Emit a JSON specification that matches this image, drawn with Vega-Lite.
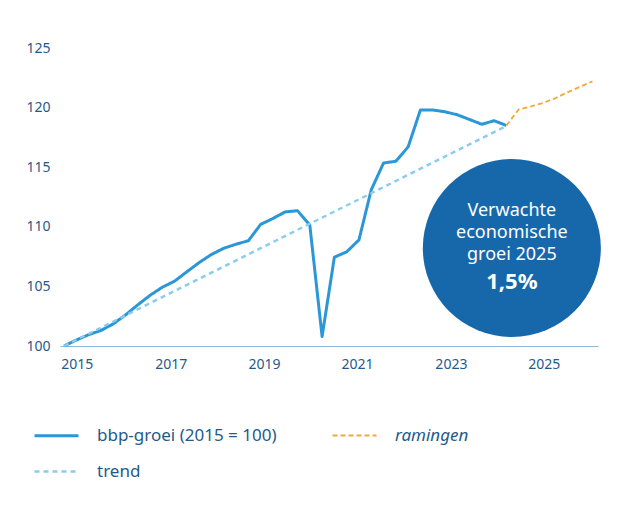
{
  "$schema": "https://vega.github.io/schema/vega-lite/v6.json",
  "width": 538,
  "height": 298,
  "autosize": {"type": "none"},
  "padding": {"left": 60, "top": 48, "right": 38, "bottom": 169},
  "background": "#ffffff",
  "config": {
    "view": {"stroke": null},
    "font": "Noto Sans",
    "axis": {"labelFont": "Noto Sans", "labelColor": "#1f5a8b", "labelFontSize": 14, "grid": false, "ticks": false, "title": null},
    "legend": {
      "title": null, "orient": "none", "legendX": -27, "legendY": 364,
      "columns": 2, "columnPadding": 51, "rowPadding": 4,
      "symbolType": "stroke", "symbolSize": 1936, "labelOffset": 17,
      "labelFontSize": 17, "labelColor": "#1f5a8b", "labelFont": "Noto Sans", "labelLimit": 400
    }
  },
  "datasets": {
    "reeksen": [
      {"reeks": "bbp-groei (2015 = 100)", "kwartaal": "2015K1", "t": 2015.00, "waarde": 100.0},
      {"reeks": "bbp-groei (2015 = 100)", "kwartaal": "2015K2", "t": 2015.25, "waarde": 100.5},
      {"reeks": "bbp-groei (2015 = 100)", "kwartaal": "2015K3", "t": 2015.50, "waarde": 100.95},
      {"reeks": "bbp-groei (2015 = 100)", "kwartaal": "2015K4", "t": 2015.75, "waarde": 101.3},
      {"reeks": "bbp-groei (2015 = 100)", "kwartaal": "2016K1", "t": 2016.00, "waarde": 101.85},
      {"reeks": "bbp-groei (2015 = 100)", "kwartaal": "2016K2", "t": 2016.25, "waarde": 102.6},
      {"reeks": "bbp-groei (2015 = 100)", "kwartaal": "2016K3", "t": 2016.50, "waarde": 103.45},
      {"reeks": "bbp-groei (2015 = 100)", "kwartaal": "2016K4", "t": 2016.75, "waarde": 104.25},
      {"reeks": "bbp-groei (2015 = 100)", "kwartaal": "2017K1", "t": 2017.00, "waarde": 104.93},
      {"reeks": "bbp-groei (2015 = 100)", "kwartaal": "2017K2", "t": 2017.25, "waarde": 105.44},
      {"reeks": "bbp-groei (2015 = 100)", "kwartaal": "2017K3", "t": 2017.50, "waarde": 106.23},
      {"reeks": "bbp-groei (2015 = 100)", "kwartaal": "2017K4", "t": 2017.75, "waarde": 107.0},
      {"reeks": "bbp-groei (2015 = 100)", "kwartaal": "2018K1", "t": 2018.00, "waarde": 107.68},
      {"reeks": "bbp-groei (2015 = 100)", "kwartaal": "2018K2", "t": 2018.25, "waarde": 108.2},
      {"reeks": "bbp-groei (2015 = 100)", "kwartaal": "2018K3", "t": 2018.50, "waarde": 108.54},
      {"reeks": "bbp-groei (2015 = 100)", "kwartaal": "2018K4", "t": 2018.75, "waarde": 108.83},
      {"reeks": "bbp-groei (2015 = 100)", "kwartaal": "2019K1", "t": 2019.00, "waarde": 110.2},
      {"reeks": "bbp-groei (2015 = 100)", "kwartaal": "2019K2", "t": 2019.25, "waarde": 110.7},
      {"reeks": "bbp-groei (2015 = 100)", "kwartaal": "2019K3", "t": 2019.50, "waarde": 111.25},
      {"reeks": "bbp-groei (2015 = 100)", "kwartaal": "2019K4", "t": 2019.75, "waarde": 111.35},
      {"reeks": "bbp-groei (2015 = 100)", "kwartaal": "2020K1", "t": 2020.00, "waarde": 110.15},
      {"reeks": "bbp-groei (2015 = 100)", "kwartaal": "2020K2", "t": 2020.25, "waarde": 100.8},
      {"reeks": "bbp-groei (2015 = 100)", "kwartaal": "2020K3", "t": 2020.50, "waarde": 107.45},
      {"reeks": "bbp-groei (2015 = 100)", "kwartaal": "2020K4", "t": 2020.75, "waarde": 107.9},
      {"reeks": "bbp-groei (2015 = 100)", "kwartaal": "2021K1", "t": 2021.00, "waarde": 108.9},
      {"reeks": "bbp-groei (2015 = 100)", "kwartaal": "2021K2", "t": 2021.25, "waarde": 113.1},
      {"reeks": "bbp-groei (2015 = 100)", "kwartaal": "2021K3", "t": 2021.50, "waarde": 115.35},
      {"reeks": "bbp-groei (2015 = 100)", "kwartaal": "2021K4", "t": 2021.75, "waarde": 115.5},
      {"reeks": "bbp-groei (2015 = 100)", "kwartaal": "2022K1", "t": 2022.00, "waarde": 116.7},
      {"reeks": "bbp-groei (2015 = 100)", "kwartaal": "2022K2", "t": 2022.25, "waarde": 119.8},
      {"reeks": "bbp-groei (2015 = 100)", "kwartaal": "2022K3", "t": 2022.50, "waarde": 119.8},
      {"reeks": "bbp-groei (2015 = 100)", "kwartaal": "2022K4", "t": 2022.75, "waarde": 119.65},
      {"reeks": "bbp-groei (2015 = 100)", "kwartaal": "2023K1", "t": 2023.00, "waarde": 119.4},
      {"reeks": "bbp-groei (2015 = 100)", "kwartaal": "2023K2", "t": 2023.25, "waarde": 119.0},
      {"reeks": "bbp-groei (2015 = 100)", "kwartaal": "2023K3", "t": 2023.50, "waarde": 118.6},
      {"reeks": "bbp-groei (2015 = 100)", "kwartaal": "2023K4", "t": 2023.75, "waarde": 118.9},
      {"reeks": "bbp-groei (2015 = 100)", "kwartaal": "2024K1", "t": 2024.00, "waarde": 118.5},
      {"reeks": "trend", "kwartaal": "2015K1", "t": 2015.00, "waarde": 100.0},
      {"reeks": "trend", "kwartaal": "2024K1", "t": 2024.00, "waarde": 118.46},
      {"reeks": "ramingen", "kwartaal": "2024K1", "t": 2024.00, "waarde": 118.5},
      {"reeks": "ramingen", "kwartaal": "2024K2", "t": 2024.25, "waarde": 119.85},
      {"reeks": "ramingen", "kwartaal": "2024K3", "t": 2024.50, "waarde": 120.1},
      {"reeks": "ramingen", "kwartaal": "2024K4", "t": 2024.75, "waarde": 120.4},
      {"reeks": "ramingen", "kwartaal": "2025K1", "t": 2025.00, "waarde": 120.8},
      {"reeks": "ramingen", "kwartaal": "2025K2", "t": 2025.25, "waarde": 121.3},
      {"reeks": "ramingen", "kwartaal": "2025K3", "t": 2025.50, "waarde": 121.75},
      {"reeks": "ramingen", "kwartaal": "2025K4", "t": 2025.75, "waarde": 122.2}
    ],
    "cirkel": [
      {"t": 2024.11, "waarde": 108.22}
    ],
    "tekst": [
      {"t": 2024.11, "waarde": 111.35, "regel": "Verwachte"},
      {"t": 2024.11, "waarde": 109.48, "regel": "economische"},
      {"t": 2024.11, "waarde": 107.63, "regel": "groei 2025"}
    ],
    "getal": [
      {"t": 2024.11, "waarde": 105.39, "regel": "1,5%"}
    ]
  },
  "layer": [
    {
      "data": {"name": "reeksen"},
      "mark": {"type": "line", "strokeJoin": "round", "strokeCap": "butt"},
      "encoding": {
        "x": {
          "field": "t", "type": "quantitative",
          "scale": {"domain": [2014.9186, 2025.8626], "nice": false, "zero": false},
          "axis": {
            "values": [2015.26, 2017.17, 2019.07, 2020.96, 2022.87, 2024.76],
            "labelExpr": "toString(round(datum.value))",
            "domain": true, "domainColor": "#8bb9d8", "domainWidth": 1.2,
            "labelPadding": 11, "labelFlush": false, "labelOverlap": false
          }
        },
        "y": {
          "field": "waarde", "type": "quantitative",
          "scale": {"domain": [100, 125], "nice": false, "zero": false},
          "axis": {"values": [100, 105, 110, 115, 120, 125], "domain": false, "labelPadding": 10}
        },
        "detail": {"field": "reeks"},
        "color": {
          "field": "reeks", "type": "nominal",
          "scale": {"domain": ["bbp-groei (2015 = 100)", "trend", "ramingen"], "range": ["#2b97d6", "#8ccbec", "#f2a83a"]},
          "legend": {
            "encode": {"labels": {"update": {"fontStyle": {"signal": "datum.label === 'ramingen' ? 'italic' : 'normal'"}}}}
          }
        },
        "strokeDash": {
          "field": "reeks", "type": "nominal",
          "scale": {"domain": ["bbp-groei (2015 = 100)", "trend", "ramingen"], "range": [[1, 0], [5, 4], [5, 3]]}
        },
        "strokeWidth": {
          "field": "reeks", "type": "nominal",
          "scale": {"domain": ["bbp-groei (2015 = 100)", "trend", "ramingen"], "range": [3, 1.8, 1.8]}
        }
      }
    },
    {
      "data": {"name": "cirkel"},
      "mark": {"type": "point", "shape": "circle", "filled": true, "size": 31700, "color": "#1768ab", "opacity": 1},
      "encoding": {
        "x": {"field": "t", "type": "quantitative"},
        "y": {"field": "waarde", "type": "quantitative"}
      }
    },
    {
      "data": {"name": "tekst"},
      "mark": {"type": "text", "color": "#ffffff", "font": "Noto Sans", "fontSize": 18, "align": "center", "baseline": "middle"},
      "encoding": {
        "x": {"field": "t", "type": "quantitative"},
        "y": {"field": "waarde", "type": "quantitative"},
        "text": {"field": "regel"}
      }
    },
    {
      "data": {"name": "getal"},
      "mark": {"type": "text", "color": "#ffffff", "font": "Noto Sans", "fontSize": 22, "fontWeight": "bold", "align": "center", "baseline": "middle"},
      "encoding": {
        "x": {"field": "t", "type": "quantitative"},
        "y": {"field": "waarde", "type": "quantitative"},
        "text": {"field": "regel"}
      }
    }
  ]
}
